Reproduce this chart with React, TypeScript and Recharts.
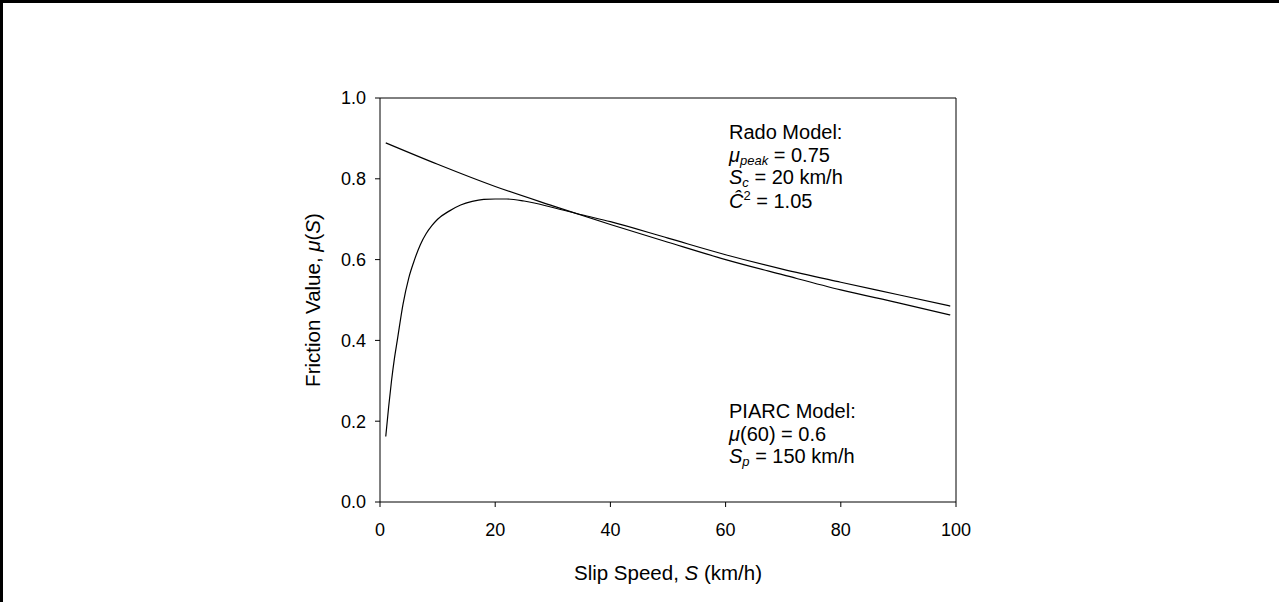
import React from 'react';
import { LineChart, Line, XAxis, YAxis, ReferenceLine, Label } from 'recharts';

const piarcSpeeds = [1, 10, 20, 30, 40, 50, 60, 70, 80, 90, 99];
const piarcValues = [0.889, 0.836, 0.781, 0.733, 0.687, 0.643, 0.6, 0.562, 0.525, 0.493, 0.463];

const radoSpeeds = [1, 1.5, 2, 2.5, 3, 4, 5, 6, 7, 8, 9, 10, 12, 14, 16, 18, 20, 22, 25, 30, 35, 40, 50, 60, 70, 80, 90, 99];
const radoValues = [0.162, 0.235, 0.3, 0.355, 0.4, 0.49, 0.555, 0.6, 0.637, 0.664, 0.684, 0.7, 0.72, 0.735, 0.744, 0.749, 0.75, 0.75, 0.745, 0.729, 0.711, 0.694, 0.653, 0.612, 0.576, 0.544, 0.513, 0.485];

const xTicks = [0, 20, 40, 60, 80, 100];
const yTicks = [0, 0.2, 0.4, 0.6, 0.8, 1.0];

const piarcData = piarcSpeeds.map((s, i) => ({ s, v: piarcValues[i] }));
const radoData = radoSpeeds.map((s, i) => ({ s, v: radoValues[i] }));

const FONT = 'Arial, "Liberation Sans", sans-serif';

const XTitle = (props: any) => {
  const vb = props.viewBox;
  const cx = vb.x + vb.width / 2;
  return (
    <text x={cx} y={vb.y + 78} textAnchor="middle" fontFamily={FONT} fontSize={20.5} fill="#000">
      Slip Speed, <tspan fontStyle="italic">S</tspan> (km/h)
    </text>
  );
};

const YTitle = (props: any) => {
  const vb = props.viewBox;
  const cy = vb.y + vb.height / 2;
  const cx = 320;
  return (
    <text x={cx} y={cy} textAnchor="middle" fontFamily={FONT} fontSize={20.5} fill="#000" transform={`rotate(-90 ${cx} ${cy})`}>
      Friction Value, <tspan fontStyle="italic">μ</tspan>(<tspan fontStyle="italic">S</tspan>)
    </text>
  );
};

const annoStyle: React.CSSProperties = {
  position: 'absolute',
  fontFamily: FONT,
  fontSize: 20,
  lineHeight: '22.7px',
  color: '#000',
  whiteSpace: 'nowrap',
};

const subStyle: React.CSSProperties = { fontSize: 13, position: 'relative', top: 3, lineHeight: 0, verticalAlign: 'baseline' };
const supStyle: React.CSSProperties = { fontSize: 13, position: 'relative', top: -8, lineHeight: 0, verticalAlign: 'baseline' };

export default function App() {
  return (
    <div style={{ position: 'absolute', left: 0, top: 0, width: 1279, height: 602, background: '#fff' }}>
      <div style={{ position: 'absolute', left: 0, top: 0, width: 1279, height: 602, boxSizing: 'border-box', borderTop: '3px solid #000', borderLeft: '3px solid #000' }} />
      <div style={{ position: 'absolute', left: 0, top: 0 }}>
        <LineChart width={1279} height={602} margin={{ top: 98, right: 323, bottom: 40, left: 300 }}>
          <XAxis
            type="number"
            dataKey="s"
            domain={[0, 100]}
            ticks={xTicks}
            allowDataOverflow
            height={60}
            tickSize={5}
            tickMargin={16}
            stroke="#000"
            tick={{ fill: '#000', fontSize: 18, fontFamily: FONT }}
          >
            <Label content={<XTitle />} />
          </XAxis>
          <YAxis
            type="number"
            dataKey="v"
            domain={[0, 1]}
            ticks={yTicks}
            width={80}
            tickSize={5}
            tickMargin={9}
            stroke="#000"
            tickFormatter={(t: number) => t.toFixed(1)}
            tick={{ fill: '#000', fontSize: 18, fontFamily: FONT }}
          >
            <Label content={<YTitle />} />
          </YAxis>
          <ReferenceLine y={1} stroke="#000" strokeWidth={1} />
          <ReferenceLine x={100} stroke="#000" strokeWidth={1} />
          <Line data={piarcData} dataKey="v" type="monotone" stroke="#000" strokeWidth={1.2} dot={false} isAnimationActive={false} />
          <Line data={radoData} dataKey="v" type="monotone" stroke="#000" strokeWidth={1.2} dot={false} isAnimationActive={false} />
        </LineChart>
      </div>
      <div style={{ ...annoStyle, left: 729, top: 121 }}>
        <div>Rado Model:</div>
        <div><i>μ<span style={subStyle}>peak</span></i> = 0.75</div>
        <div><i>S<span style={subStyle}>c</span></i> = 20 km/h</div>
        <div style={{ marginTop: 1 }}><i>Ĉ</i><span style={supStyle}>2</span> = 1.05</div>
      </div>
      <div style={{ ...annoStyle, left: 729, top: 400 }}>
        <div>PIARC Model:</div>
        <div><i>μ</i>(60) = 0.6</div>
        <div><i>S<span style={subStyle}>p</span></i> = 150 km/h</div>
      </div>
    </div>
  );
}
